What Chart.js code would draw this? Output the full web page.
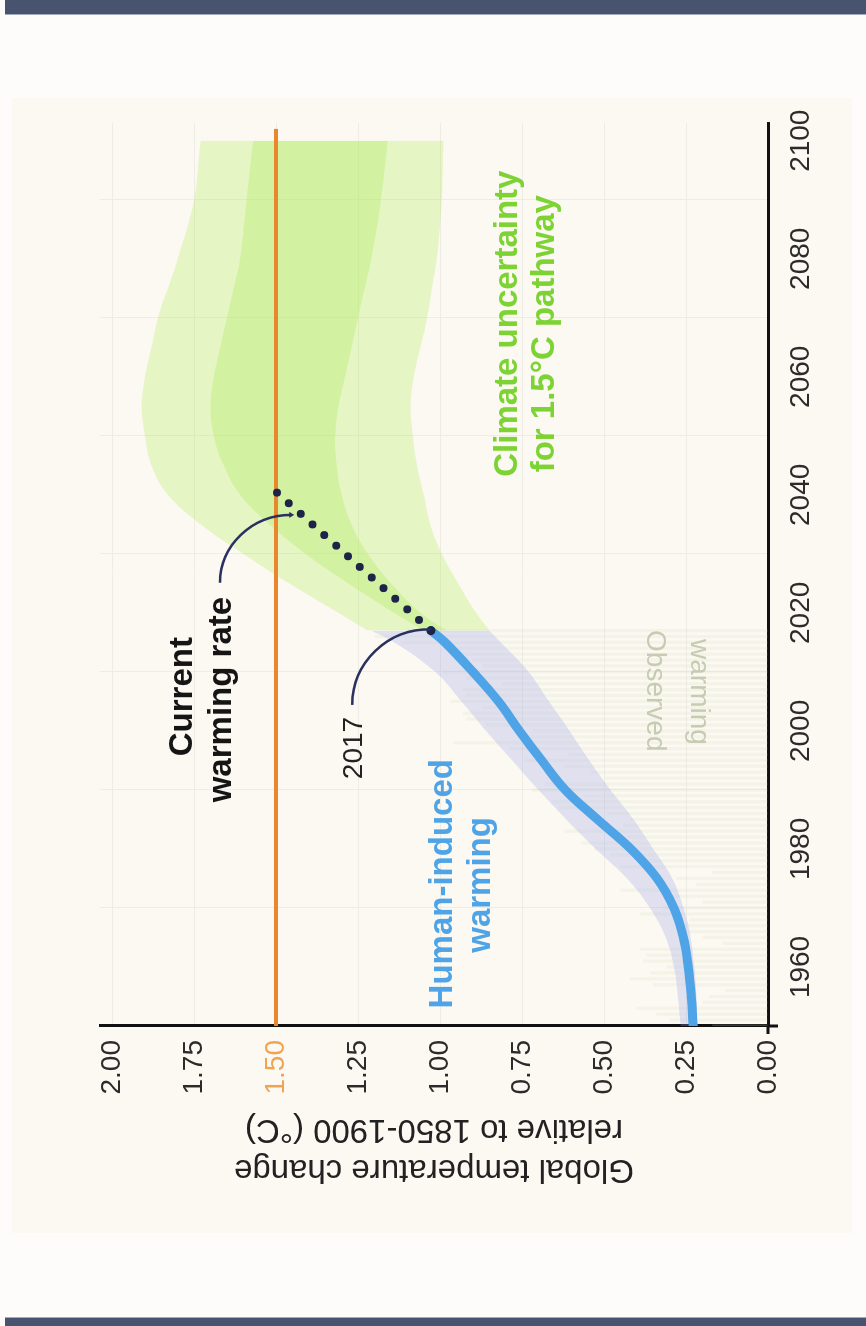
<!DOCTYPE html>
<html>
<head>
<meta charset="utf-8">
<script src="https://cdn.jsdelivr.net/npm/chart.js@4.4.0/dist/chart.umd.min.js"></script>
<style>
  html, body { margin: 0; padding: 0; width: 866px; height: 1326px; overflow: hidden; background: #fdfcfa; }
  .bar { position: absolute; left: 5px; right: 0; background: #47536f; }
  #topbar { top: 0; height: 14px; border-bottom: 1px solid #a3abbd; }
  #bottombar { top: 1317px; bottom: 0; border-top: 1px solid #a3abbd; }
  #panel { position: absolute; left: 12px; top: 98px; width: 840px; height: 1135px; background: #fcf8f2; }
  /* chart is laid out landscape, then turned a quarter to the left */
  #turn { position: absolute; left: 0; top: 0; width: 1326px; height: 866px;
          transform-origin: 0 0; transform: translateY(1326px) rotate(-90deg); }
</style>
</head>
<body>
<div id="topbar" class="bar"></div>
<div id="panel"></div>
<div id="turn"><canvas id="chart" width="1326" height="866"></canvas></div>
<div id="bottombar" class="bar"></div>
<script>
// axis ticks
var YEAR_TICKS = [1960, 1980, 2000, 2020, 2040, 2060, 2080, 2100];
var TEMP_TICKS = [0, 0.25, 0.5, 0.75, 1.0, 1.25, 1.5, 1.75, 2.0];

// human-induced warming (°C above 1850-1900) with its likely range
var HUMAN_YEARS   = [1950, 1955, 1960, 1965, 1970, 1975, 1980, 1985, 1990, 1995, 2000, 2005, 2010, 2015, 2017];
var HUMAN_WARMING = [0.228, 0.234, 0.243, 0.258, 0.287, 0.338, 0.418, 0.52, 0.618, 0.69, 0.758, 0.822, 0.90, 0.985, 1.028];
var HUMAN_LOW     = [0.215, 0.218, 0.225, 0.236, 0.258, 0.292, 0.35, 0.41, 0.48, 0.545, 0.605, 0.668, 0.73, 0.815, 0.85];
var HUMAN_HIGH    = [0.266, 0.275, 0.287, 0.312, 0.36, 0.43, 0.525, 0.615, 0.70, 0.78, 0.86, 0.935, 1.015, 1.14, 1.21];

// observed annual warming
var OBS_YEARS = [1950, 1951, 1952, 1953, 1954, 1955, 1956, 1957, 1958, 1959,
                 1960, 1961, 1962, 1963, 1964, 1965, 1966, 1967, 1968, 1969,
                 1970, 1971, 1972, 1973, 1974, 1975, 1976, 1977, 1978, 1979,
                 1980, 1981, 1982, 1983, 1984, 1985, 1986, 1987, 1988, 1989,
                 1990, 1991, 1992, 1993, 1994, 1995, 1996, 1997, 1998, 1999,
                 2000, 2001, 2002, 2003, 2004, 2005, 2006, 2007, 2008, 2009,
                 2010, 2011, 2012, 2013, 2014, 2015, 2016, 2017];
var OBS_WARMING = [0.17, 0.30, 0.34, 0.40, 0.20, 0.18, 0.13, 0.35, 0.42, 0.36,
                   0.31, 0.38, 0.37, 0.39, 0.14, 0.20, 0.27, 0.28, 0.24, 0.39,
                   0.32, 0.20, 0.32, 0.45, 0.22, 0.28, 0.17, 0.45, 0.37, 0.48,
                   0.53, 0.57, 0.43, 0.62, 0.44, 0.42, 0.49, 0.64, 0.66, 0.56,
                   0.72, 0.68, 0.50, 0.54, 0.62, 0.74, 0.61, 0.79, 0.96, 0.74,
                   0.72, 0.86, 0.92, 0.93, 0.87, 0.97, 0.92, 0.93, 0.81, 0.92,
                   0.99, 0.87, 0.90, 0.94, 0.99, 1.12, 1.20, 1.10];

// 1.5°C pathway uncertainty (outer and inner ranges)
var PATH_YEARS = [2017, 2020, 2025, 2030, 2035, 2040, 2045, 2050, 2055, 2060, 2065, 2070, 2075, 2080, 2090, 2100];
var OUTER_LOW  = [0.85, 0.89, 0.945, 0.995, 1.03, 1.05, 1.07, 1.083, 1.09, 1.08, 1.06, 1.04, 1.025, 1.01, 0.995, 0.99];
var OUTER_HIGH = [1.22, 1.31, 1.46, 1.60, 1.73, 1.83, 1.88, 1.90, 1.91, 1.90, 1.88, 1.86, 1.83, 1.80, 1.75, 1.73];
var INNER_LOW  = [0.98, 1.06, 1.15, 1.22, 1.27, 1.30, 1.315, 1.32, 1.31, 1.29, 1.27, 1.25, 1.23, 1.21, 1.18, 1.16];
var INNER_HIGH = [1.05, 1.14, 1.28, 1.41, 1.52, 1.61, 1.66, 1.69, 1.70, 1.69, 1.67, 1.65, 1.63, 1.61, 1.59, 1.57];

// current rate carried on to 1.5°C
var RATE_YEARS = [2017, 2040.5];
var RATE_TEMPS = [1.028, 1.5];

var LIMIT_YEARS = [1950, 2102];
var LIMIT_TEMP = 1.5;

var FONT = '"Liberation Sans", Arial, Helvetica, sans-serif';
Chart.defaults.font.family = FONT;

function pts(xs, ys) {
  return xs.map(function (x, i) { return { x: x, y: ys[i] }; });
}

// labels placed in data units (year, °C)
var NOTE_TEXT = [
  { text: 'Current',             year: 2005.8, temp: 1.756, font: 'bold 33px', color: '#151515' },
  { text: 'warming rate',        year: 2005.3, temp: 1.637, font: 'bold 33px', color: '#151515' },
  { text: '2017',                year: 1997.1, temp: 1.238, font: '28px',      color: '#222222' },
  { text: 'Human-induced',       year: 1974.1, temp: 0.963, font: 'bold 33px', color: '#4ea4e6' },
  { text: 'warming',             year: 1973.9, temp: 0.848, font: 'bold 33px', color: '#4ea4e6' },
  { text: 'Climate uncertainty', year: 2069.0, temp: 0.765, font: 'bold 33px', color: '#7dd334' },
  { text: 'for 1.5°C pathway',   year: 2067.3, temp: 0.652, font: 'bold 33px', color: '#7dd334' },
  { text: 'Observed',            year: 2006.8, temp: 0.369, font: '28px',      color: '#c6ccb2', flip: true },
  { text: 'warming',             year: 2006.6, temp: 0.235, font: '28px',      color: '#c6ccb2', flip: true }
];

// leader curves: start, bend corner, end
var NOTE_ARCS = [
  { from: [2004.4, 1.268], corner: [2017.5, 1.268], to: [2017.2, 1.028] },
  { from: [2025.1, 1.671], corner: [2036.6, 1.671], to: [2036.6, 1.454], arrow: true }
];

var notesPlugin = {
  id: 'notes',
  afterDatasetsDraw: function (chart) {
    var ctx = chart.ctx, x = chart.scales.x, y = chart.scales.y;
    ctx.save();
    ctx.strokeStyle = '#2a3160';
    ctx.fillStyle = '#2a3160';
    ctx.lineWidth = 2.5;
    NOTE_ARCS.forEach(function (a) {
      var p0 = [x.getPixelForValue(a.from[0]), y.getPixelForValue(a.from[1])];
      var c  = [x.getPixelForValue(a.corner[0]), y.getPixelForValue(a.corner[1])];
      var p3 = [x.getPixelForValue(a.to[0]), y.getPixelForValue(a.to[1])];
      var k = 0.55;
      ctx.beginPath();
      ctx.moveTo(p0[0], p0[1]);
      ctx.bezierCurveTo(p0[0] + k * (c[0] - p0[0]), p0[1] + k * (c[1] - p0[1]),
                        p3[0] + k * (c[0] - p3[0]), p3[1] + k * (c[1] - p3[1]),
                        p3[0], p3[1]);
      ctx.stroke();
      if (a.arrow) {
        ctx.beginPath();
        ctx.moveTo(p3[0], p3[1] + 3);
        ctx.lineTo(p3[0] - 3, p3[1] - 2);
        ctx.lineTo(p3[0] + 3, p3[1] - 2);
        ctx.closePath();
        ctx.fill();
      }
    });

    ctx.textAlign = 'center';
    ctx.textBaseline = 'alphabetic';
    NOTE_TEXT.forEach(function (n) {
      ctx.save();
      ctx.translate(x.getPixelForValue(n.year), y.getPixelForValue(n.temp));
      if (n.flip) ctx.rotate(Math.PI);
      ctx.font = n.font + ' ' + FONT;
      ctx.fillStyle = n.color;
      ctx.fillText(n.text, 0, 0);
      ctx.restore();
    });
    ctx.restore();
  },
  afterDraw: function (chart) {
    // small overhang of both axes past the origin
    var ctx = chart.ctx, a = chart.chartArea;
    ctx.save();
    ctx.strokeStyle = '#111';
    ctx.lineWidth = 3;
    ctx.beginPath();
    ctx.moveTo(a.left - 8, a.bottom);
    ctx.lineTo(a.left, a.bottom);
    ctx.moveTo(a.left, a.bottom);
    ctx.lineTo(a.left, a.bottom + 10);
    ctx.stroke();
    ctx.restore();
  }
};

var band = { borderWidth: 0, pointRadius: 0, tension: 0.4 };

new Chart(document.getElementById('chart'), {
  type: 'line',
  data: {
    datasets: [
      { type: 'bar', label: 'Observed warming', data: pts(OBS_YEARS, OBS_WARMING),
        backgroundColor: 'rgba(214,224,188,0.2)', barPercentage: 1, categoryPercentage: 0.55, order: 10 },
      Object.assign({ label: 'human low',  data: pts(HUMAN_YEARS, HUMAN_LOW),  fill: false, order: 9 }, band),
      Object.assign({ label: 'human high', data: pts(HUMAN_YEARS, HUMAN_HIGH), fill: '-1',
        backgroundColor: 'rgba(150,160,232,0.28)', order: 8 }, band),
      Object.assign({ label: 'outer low',  data: pts(PATH_YEARS, OUTER_LOW),  fill: false, order: 7 }, band),
      Object.assign({ label: 'outer high', data: pts(PATH_YEARS, OUTER_HIGH), fill: '-1',
        backgroundColor: 'rgba(160,235,60,0.25)', order: 6 }, band),
      Object.assign({ label: 'inner low',  data: pts(PATH_YEARS, INNER_LOW),  fill: false, order: 5 }, band),
      Object.assign({ label: 'inner high', data: pts(PATH_YEARS, INNER_HIGH), fill: '-1',
        backgroundColor: 'rgba(160,235,60,0.26)', order: 4 }, band),
      { label: '1.5°C', data: LIMIT_YEARS.map(function (yr) { return { x: yr, y: LIMIT_TEMP }; }),
        borderColor: '#e8872d', borderWidth: 4, pointRadius: 0, fill: false, order: 3 },
      { label: 'Human-induced warming', data: pts(HUMAN_YEARS, HUMAN_WARMING),
        borderColor: '#4ea4e6', borderWidth: 9, pointRadius: 0, fill: false,
        tension: 0.4, borderCapStyle: 'round', order: 2 },
      { label: 'Current warming rate', data: pts(RATE_YEARS, RATE_TEMPS),
        borderColor: '#1d2447', borderWidth: 8, borderDash: [0, 15.9], borderCapStyle: 'round',
        pointRadius: function (c) { return c.dataIndex === 0 ? 4.5 : 0; },
        pointBackgroundColor: '#1d2447', pointBorderWidth: 0, fill: false, order: 1 }
    ]
  },
  options: {
    responsive: false,
    animation: false,
    devicePixelRatio: 1,
    layout: { padding: { left: 137, top: 100, right: 123, bottom: 38 } },
    plugins: { legend: { display: false }, tooltip: { enabled: false } },
    scales: {
      x: {
        type: 'linear', min: 1950, max: 2103, offset: false,
        afterBuildTicks: function (s) { s.ticks = YEAR_TICKS.map(function (v) { return { value: v }; }); },
        afterFit: function (s) { s.height = 60; },
        grid: { color: '#efece5', lineWidth: 1, drawTicks: false },
        border: { color: '#111', width: 3 },
        ticks: { padding: 16, font: { size: 28 }, color: '#2b2b2b', maxRotation: 0, autoSkip: false,
                 callback: function (v) { return String(v); } }
      },
      y: {
        type: 'linear', min: 0, max: 2.037,
        afterBuildTicks: function (s) { s.ticks = TEMP_TICKS.map(function (v) { return { value: v }; }); },
        afterFit: function (s) { s.width = 163; },
        grid: { color: '#efece5', lineWidth: 1, drawTicks: false },
        border: { color: '#111', width: 3 },
        ticks: { padding: 14, font: { size: 28 },
                 color: function (c) { return c.tick && c.tick.value === LIMIT_TEMP ? '#f0a350' : '#2b2b2b'; },
                 callback: function (v) { return v.toFixed(2); } },
        title: { display: true, text: ['Global temperature change', 'relative to 1850-1900 (°C)'],
                 font: { size: 33, lineHeight: 40 / 33 }, color: '#222', padding: 0 }
      }
    }
  },
  plugins: [notesPlugin]
});
</script>
</body>
</html>
